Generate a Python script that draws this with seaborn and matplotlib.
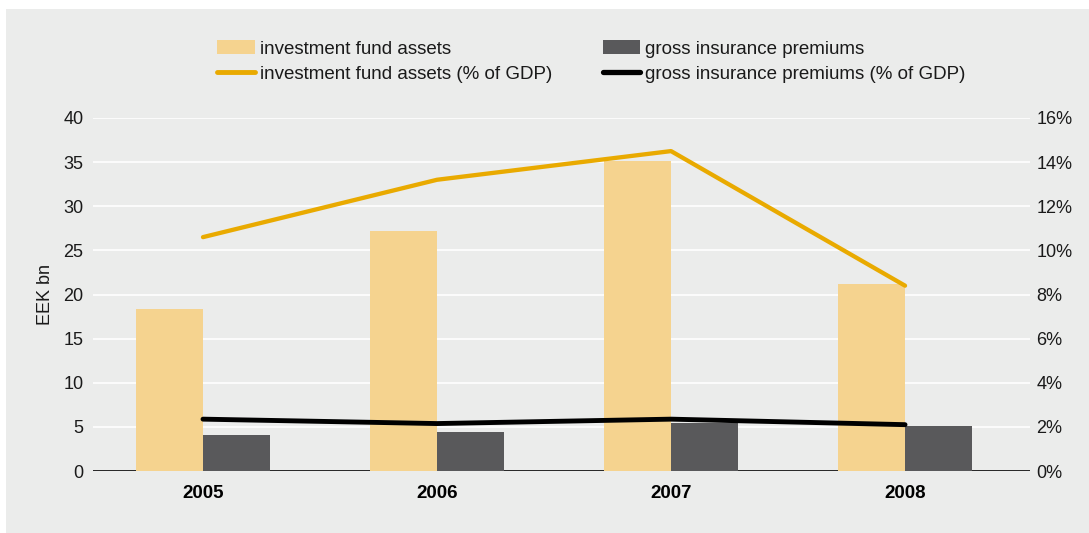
import numpy as np
import pandas as pd
import matplotlib
matplotlib.use("Agg")
import matplotlib.pyplot as plt
from matplotlib.patches import Rectangle, Patch
from matplotlib.lines import Line2D
from matplotlib.ticker import FuncFormatter
import seaborn as sns

# Data
years = ["2005", "2006", "2007", "2008"]
fund_assets = [18.4, 27.2, 35.1, 21.2]          # EEK bn
insurance_premiums = [4.1, 4.4, 5.4, 5.1]       # EEK bn
fund_assets_gdp = [10.6, 13.2, 14.5, 8.4]       # % of GDP
insurance_gdp = [2.35, 2.15, 2.35, 2.1]         # % of GDP

lbl_fund = "investment fund assets"
lbl_ins = "gross insurance premiums"
lbl_fund_gdp = "investment fund assets (% of GDP)"
lbl_ins_gdp = "gross insurance premiums (% of GDP)"

c_fund = "#f5d38f"
c_ins = "#59595b"
c_fund_line = "#e9aa00"
c_ins_line = "#000000"
bg = "#ebeceb"
txt = "#1a1a1a"

sns.set_theme(style="white")
plt.rcParams["font.family"] = ["Liberation Sans", "DejaVu Sans"]

bars = pd.DataFrame({
    "year": years * 2,
    "value": fund_assets + insurance_premiums,
    "series": [lbl_fund] * 4 + [lbl_ins] * 4,
})

fig = plt.figure(figsize=(10.89, 5.33), dpi=100)
fig.patch.set_facecolor("white")
fig.add_artist(Rectangle((6 / 1089, 0), 1, 1 - 9 / 533, transform=fig.transFigure,
                         facecolor=bg, edgecolor="none", zorder=-10))

ax = fig.add_axes([93 / 1089, 1 - 471 / 533, 937 / 1089, 353 / 533])
ax.set_facecolor("none")

sns.barplot(data=bars, x="year", y="value", hue="series",
            palette=[c_fund, c_ins], width=0.573, dodge=True,
            saturation=1, linewidth=0, edgecolor="none",
            ax=ax, legend=False, zorder=3)

ax.set_ylim(0, 40)
ax.set_yticks(np.arange(0, 41, 5))
ax.set_xlim(-0.47, 3.534)
ax.grid(axis="y", color="white", linewidth=1.2, zorder=0)
ax.grid(axis="x", visible=False)
ax.set_axisbelow(True)
ax.axhline(0, color="black", linewidth=1.2, zorder=1)
for s in ax.spines.values():
    s.set_visible(False)
ax.tick_params(axis="y", length=0, pad=7, labelsize=13, labelcolor=txt)
ax.tick_params(axis="x", length=0, pad=10, labelsize=13.5, labelcolor="black")
for t in ax.get_xticklabels():
    t.set_fontweight("bold")
ax.set_xlabel("")
ax.set_ylabel("EEK bn", fontsize=13, color=txt)
ax.yaxis.set_label_coords(-0.042, 0.5)

ax2 = ax.twinx()
ax2.set_facecolor("none")
xpos = np.arange(len(years))
sns.lineplot(x=xpos, y=fund_assets_gdp, color=c_fund_line, linewidth=3.1, ax=ax2)
sns.lineplot(x=xpos, y=insurance_gdp, color=c_ins_line, linewidth=3.5, ax=ax2)
ax2.set_ylim(0, 16)
ax2.set_yticks(np.arange(0, 17, 2))
ax2.yaxis.set_major_formatter(FuncFormatter(lambda v, p: f"{v:.0f}%"))
ax2.set_xlim(-0.47, 3.534)
for s in ax2.spines.values():
    s.set_visible(False)
ax2.tick_params(axis="y", length=0, pad=4.5, labelsize=13, labelcolor=txt)
ax2.grid(False)

handles = [
    Patch(facecolor=c_fund, edgecolor="none", label=lbl_fund),
    Line2D([0], [0], color=c_fund_line, linewidth=3.5, label=lbl_fund_gdp),
    Patch(facecolor=c_ins, edgecolor="none", label=lbl_ins),
    Line2D([0], [0], color=c_ins_line, linewidth=3.8, label=lbl_ins_gdp),
]
leg = fig.legend(handles=handles, ncol=2, loc="center left",
                 bbox_to_anchor=(217 / 1089, 1 - 61.5 / 533), frameon=False,
                 fontsize=13.5, handlelength=2.0, handleheight=0.8, handletextpad=0.28,
                 columnspacing=2.7, labelspacing=0.42, borderpad=0, borderaxespad=0)
for t in leg.get_texts():
    t.set_color(txt)

fig.savefig("out.png", dpi=100)
